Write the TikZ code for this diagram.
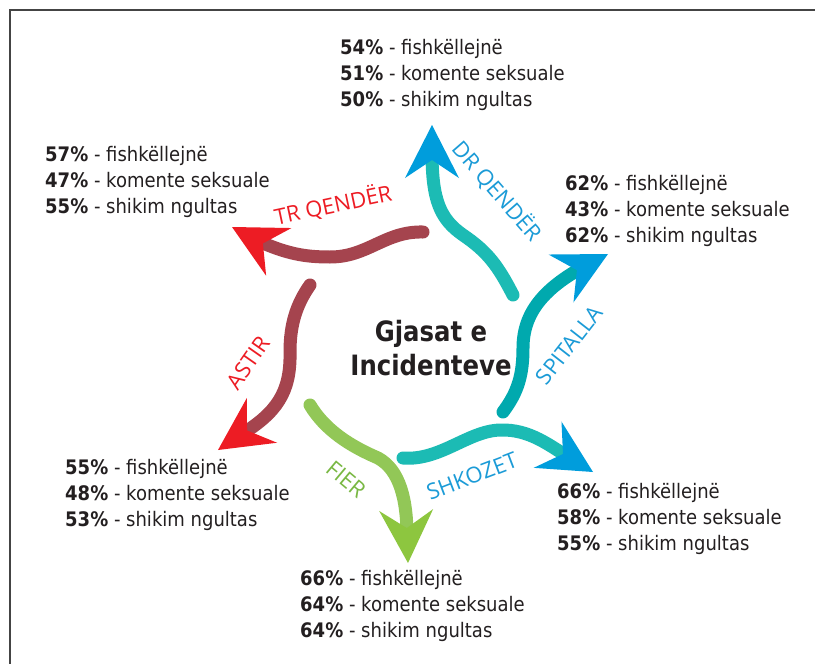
\documentclass[tikz,border=0pt]{standalone}
\usepackage{fontspec}
\newfontfamily\listfont[FakeStretch=0.9]{DejaVu Sans}
\newfontfamily\titlefont[FakeStretch=0.87]{DejaVu Sans}
\newfontfamily\labelfont{Open Sans}
\definecolor{maroon}{HTML}{A5444E}
\definecolor{headred}{HTML}{ED1C24}
\definecolor{tealA}{HTML}{1CBBB4}
\definecolor{tealB}{HTML}{00A9AE}
\definecolor{headblue}{HTML}{009DDC}
\definecolor{greenbody}{HTML}{92C757}
\definecolor{greenhead}{HTML}{8DC63F}
\definecolor{lblblue}{HTML}{1B9BD7}
\definecolor{lblred}{HTML}{ED1C24}
\definecolor{lblgreen}{HTML}{79B843}
\definecolor{txt}{HTML}{231F20}
\definecolor{framegray}{HTML}{444444}
\tikzset{
  stat/.style={anchor=base west, inner sep=0pt, text=txt, font=\listfont\fontsize{20}{24}\selectfont},
  body/.style={line width=13pt, line cap=round},
  lbl/.style={inner sep=0pt, font=\labelfont\fontsize{22}{26}\selectfont},
  framestyle/.style={draw=framegray, line width=1.5pt},
  titlestyle/.style={inner sep=0pt, align=center, text=txt, font=\titlefont\bfseries\fontsize{28}{34}\selectfont}
}
\newcommand\statsblock[6]{%
  \node[stat] (#1a) at (#2,#3) {\textbf{#4\%} - fishkëllejnë};
  \node[stat] (#1b) at (#2,#3+26.3) {\textbf{#5\%} - komente seksuale};
  \node[stat] (#1c) at (#2,#3+52.6) {\textbf{#6\%} - shikim ngultas};}
\newcommand\arrhead[3]{%
  \begin{scope}[shift={(#1)}, rotate=#2]
    \fill[#3] (0,0) -- (-53,27) -- (-35,0) -- (-53,-27) -- cycle;
  \end{scope}}
\begin{document}
\begin{tikzpicture}[x=1pt,y=-1pt]
\useasboundingbox (0,0) rectangle (815,664);
\fill[white] (0,0) rectangle (815,664);
\draw[framestyle] (815,10) -- (10,10) -- (10,664);

% arrow coordinates
\coordinate (sA) at (423,232); \coordinate (mA) at (330,257); \coordinate (eA) at (256,240); \coordinate (tA) at (232,227);
\coordinate (sB) at (513,295); \coordinate (mB) at (463,235); \coordinate (eB) at (432,152); \coordinate (tB) at (432,125);
\coordinate (sC) at (503,412); \coordinate (mC) at (523,348); \coordinate (eC) at (584,266.5); \coordinate (tC) at (608,254);
\coordinate (sD) at (403,458); \coordinate (mD) at (500,430); \coordinate (eD) at (570,458); \coordinate (tD) at (593,472);
\coordinate (sE) at (310,405); \coordinate (mE) at (378,458); \coordinate (eE) at (407,536); \coordinate (tE) at (408,563);
\coordinate (sF) at (310,285); \coordinate (mF) at (290,352); \coordinate (eF) at (240.5,435); \coordinate (tF) at (218,450);

% TR QENDER
\draw[body, maroon] (sA) .. controls (385,231) and (368,257) .. (mA) .. controls (305,257) and (287,254) .. (eA);
\arrhead{tA}{152}{headred}
% DR QENDER
\draw[body, tealA] (sB) .. controls (498,266) and (488,252) .. (mB) .. controls (440,219) and (432,200) .. (eB);
\arrhead{tB}{90}{headblue}
% SPITALLA
\draw[body, tealB] (sC) .. controls (518,392) and (523,375) .. (mC) .. controls (523,312) and (545,288) .. (eC);
\arrhead{tC}{27.5}{headblue}
% SHKOZET
\draw[body, tealA] (sD) .. controls (440,461) and (468,431) .. (mD) .. controls (530,429) and (550,446) .. (eD);
\arrhead{tD}{-31}{headblue}
% FIER
\draw[body, greenbody] (sE) .. controls (325,430) and (350,446) .. (mE) .. controls (400,470) and (407,500) .. (eE);
\arrhead{tE}{-88}{greenhead}
% ASTIR
\draw[body, maroon] (sF) .. controls (296,305) and (290,325) .. (mF) .. controls (291,393) and (276,413) .. (eF);
\arrhead{tF}{-146}{headred}

% labels
\node[lbl, text=lblred, rotate=12] (lA) at (333,205) {TR QENDËR};
\node[lbl, text=lblblue, rotate=-49] (lB) at (497,191) {DR QENDËR};
\node[lbl, text=lblblue, rotate=52] (lC) at (569,345) {SPITALLA};
\node[lbl, text=lblblue, rotate=21] (lD) at (472,476) {SHKOZET};
\node[lbl, text=lblgreen, rotate=-40] (lE) at (346,479) {FIER};
\node[lbl, text=lblred, rotate=55] (lF) at (248,363) {ASTIR};

% title
\node[titlestyle] (title) at (431,348) {Gjasat e\\Incidenteve};

% stats
\statsblock{top}{340}{54}{54}{51}{50}
\statsblock{tl}{45}{161}{57}{47}{55}
\statsblock{tr}{565}{190}{62}{43}{62}
\statsblock{lb}{65}{474}{55}{48}{53}
\statsblock{rb}{557}{498}{66}{58}{55}
\statsblock{bt}{300}{585}{66}{64}{64}
\end{tikzpicture}
\end{document}
